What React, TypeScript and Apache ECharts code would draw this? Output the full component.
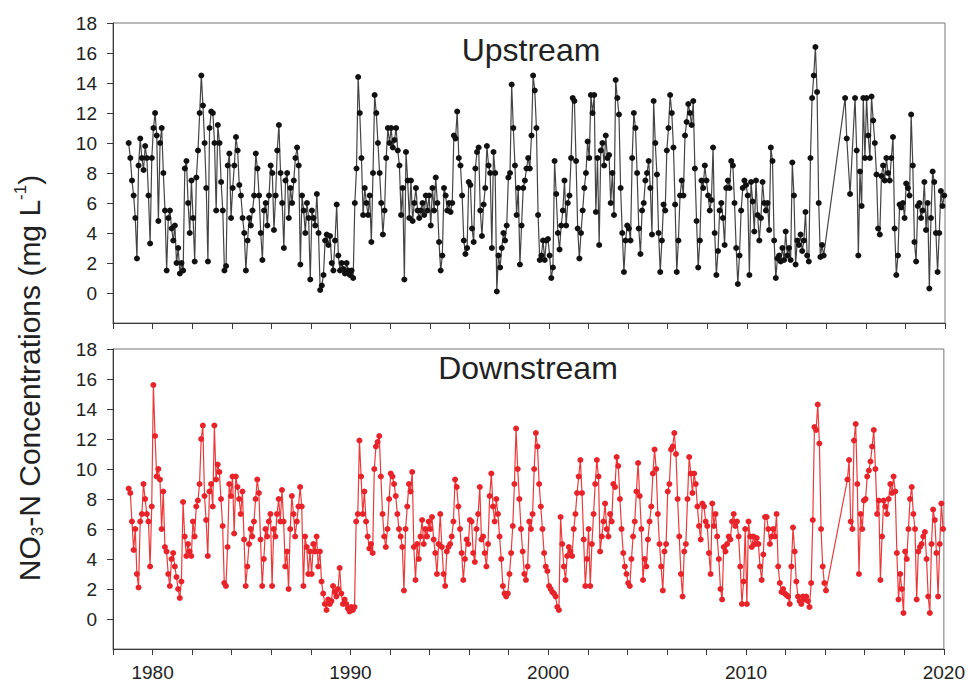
import React, { useEffect, useRef } from "react";
import * as echarts from "echarts";

// ---- data (monthly samples, first value = Oct 1978) ----
const FIRST_YEAR = 1978;
const FIRST_MONTH = 9; // 0-based, October
const X_MIN = 1978;
const X_MAX = 2020;
const Y_TICKS = [0, 2, 4, 6, 8, 10, 12, 14, 16, 18];
const X_LABEL_YEARS = [1980, 1990, 2000, 2010, 2020];
const PANEL_TITLES = ["Upstream", "Downstream"];

const upstreamValues: (number | null)[] = [
  10.0, 9.0, 7.5,
  6.5, 5.0, 2.3, 8.5, 10.3, 9.0, 8.2, 9.8, 9.0, 6.5, 3.3, 9.0, // 1979
  11.0, 12.0, 10.5, 4.8, 10.0, 11.0, 8.0, 5.5, 1.5, 5.0, 5.5, 4.3, // 1980
  3.5, 4.5, 2.0, 3.0, 1.3, 2.0, 1.5, 8.3, 8.8, 6.0, 4.0, 7.5, // 1981
  5.0, 2.1, 7.7, 9.5, 12.0, 14.5, 12.5, 10.0, 7.0, 2.1, 11.0, 12.1, // 1982
  12.0, 10.0, 5.5, 11.2, 10.0, 7.4, 5.5, 1.5, 1.8, 8.5, 9.3, 5.0, // 1983
  7.0, 8.5, 10.4, 9.5, 7.2, 6.5, 5.0, 4.0, 1.5, 3.5, 5.0, 4.5, // 1984
  5.5, 6.5, 9.3, 8.3, 6.5, 4.0, 2.2, 5.5, 6.0, 4.5, 6.5, 8.5, // 1985
  8.0, 4.2, 6.5, 9.5, 11.2, 8.0, 6.0, 3.0, 7.5, 8.0, 5.0, 7.0, // 1986
  6.0, 7.5, 9.0, 9.7, 8.5, 1.9, 6.5, 5.5, 4.0, 6.0, 5.0, 0.9, // 1987
  5.5, 5.0, 4.5, 6.6, 4.0, 0.2, 0.5, 1.2, 3.5, 3.9, 3.2, 3.8, // 1988
  2.0, 1.5, 3.5, 5.9, 2.5, 1.5, 2.0, 1.6, 1.3, 2.0, 1.5, 1.2, // 1989
  1.5, 1.0, 6.0, 8.3, 14.4, 12.0, 9.0, 5.2, 7.0, 6.0, 5.2, 6.5, // 1990
  3.4, 8.0, 13.2, 12.0, 10.0, 8.0, 6.0, 3.9, 5.5, 9.0, 11.0, 10.0, // 1991
  11.0, 9.7, 10.2, 11.0, 9.5, 8.5, 5.2, 7.0, 0.9, 9.4, 7.5, 5.0, // 1992
  7.5, 4.8, 6.0, 7.0, 5.5, 5.0, 5.5, 6.0, 5.2, 6.5, 5.5, 6.5, // 1993
  4.5, 7.0, 5.5, 7.7, 6.0, 3.4, 1.5, 2.5, 7.0, 6.5, 5.5, 6.0, // 1994
  5.4, 6.0, 10.5, 10.3, 12.1, 9.0, 8.5, 6.5, 3.5, 2.6, 3.0, 7.4, // 1995
  7.2, 4.3, 3.4, 8.3, 9.4, 9.7, 5.5, 3.8, 5.9, 7.0, 9.8, 8.5, // 1996
  8.0, 3.0, 9.4, 8.0, 0.1, 2.5, 1.7, 3.0, 4.0, 3.5, 4.5, 7.7, // 1997
  8.0, 13.9, 11.0, 8.5, 5.2, 7.0, 1.9, 4.5, 7.0, 7.5, 8.3, 9.0, // 1998
  8.3, 10.5, 14.5, 13.5, 11.0, 5.2, 2.2, 2.5, 3.5, 2.2, 3.5, 3.6, // 1999
  2.5, 1.0, 1.7, 8.8, 6.6, 4.0, 2.9, 4.5, 5.5, 7.5, 4.5, 6.0, // 2000
  6.5, 9.0, 13.0, 12.8, 8.8, 4.3, 2.3, 4.0, 5.5, 7.0, 8.0, 10.1, // 2001
  9.0, 13.2, 12.0, 13.2, 5.4, 9.0, 3.2, 9.5, 10.0, 8.5, 10.5, 9.0, // 2002
  9.2, 6.0, 8.0, 5.2, 14.2, 13.0, 11.9, 7.0, 4.0, 1.4, 3.5, 4.5, // 2003
  4.3, 3.5, 9.0, 12.0, 11.0, 8.0, 4.3, 2.6, 5.5, 6.0, 7.5, 8.0, // 2004
  8.8, 7.0, 3.9, 12.8, 10.0, 7.9, 4.0, 1.4, 3.5, 5.9, 5.5, 9.5, // 2005
  11.0, 13.2, 12.0, 9.7, 5.9, 1.4, 3.5, 6.5, 7.5, 6.5, 10.5, 11.4, // 2006
  12.6, 12.0, 11.2, 12.8, 8.3, 4.8, 1.7, 3.5, 7.5, 7.0, 8.5, 7.5, // 2007
  6.5, 5.5, 6.2, 9.7, 4.0, 1.2, 2.8, 5.5, 6.0, 5.0, 3.2, 7.0, // 2008
  7.5, 7.0, 8.8, 8.5, 6.0, 3.0, 0.6, 2.5, 5.5, 7.0, 7.5, 7.2, // 2009
  6.5, 1.2, 7.4, 6.1, 4.1, 7.5, 5.2, 3.5, 5.0, 7.4, 6.0, 5.5, // 2010
  6.0, 4.2, 9.7, 8.8, 3.5, 1.0, 2.3, 2.5, 2.1, 3.0, 2.2, 4.1, // 2011
  2.5, 3.0, 2.2, 8.7, 6.5, 1.9, 3.5, 3.2, 3.9, 2.8, 3.5, 5.4, // 2012
  2.5, 2.1, 9.0, 13.0, 14.5, 16.4, 13.4, 6.0, 2.4, 3.2, 2.5, null, // 2013
  null, null, null, null, null, null, null, null, null, null, null, 13.0, // 2014
  10.3, null, 6.6, null, null, 13.0, 9.5, 2.5, 8.1, 5.8, 13.0, 9.0, // 2015
  13.0, 10.5, 9.0, 13.1, 11.5, 10.0, 7.9, 4.3, 3.9, 7.8, 8.5, 7.5, // 2016
  9.0, 8.0, 7.5, 9.0, 10.4, 4.3, 1.2, 2.5, 5.9, 5.7, 6.0, 5.0, // 2017
  7.3, 7.0, 6.5, 11.9, 8.5, 3.4, 2.1, 5.8, 6.0, 5.0, 5.5, 7.4, // 2018
  4.2, 6.0, 0.3, 5.0, 8.1, 7.4, 4.0, 1.4, 4.0, 6.8, 5.8, 6.5, // 2019
];

const downstreamValues: (number | null)[] = [
  8.7, 8.4, 6.5,
  4.6, 6.0, 3.0, 2.1, 6.5, 7.0, 9.0, 8.0, 7.0, 6.5, 3.5, 7.5, // 1979
  15.6, 12.2, 9.5, 10.0, 9.3, 6.0, 8.5, 4.8, 4.5, 3.0, 2.2, 4.0, // 1980
  4.4, 3.5, 2.8, 2.0, 1.4, 2.5, 7.8, 5.5, 4.2, 5.0, 4.5, 4.2, // 1981
  6.5, 5.5, 7.5, 7.9, 9.0, 12.0, 12.9, 8.2, 6.6, 4.2, 8.5, 9.0, // 1982
  7.5, 12.9, 9.3, 10.3, 9.8, 8.0, 6.2, 2.4, 2.2, 4.8, 9.0, 8.2, // 1983
  9.5, 5.7, 9.5, 8.8, 8.0, 7.0, 8.5, 5.3, 2.2, 3.5, 5.0, 6.0, // 1984
  5.5, 6.5, 8.0, 9.3, 8.4, 5.3, 2.2, 4.0, 6.0, 5.5, 6.5, 7.0, // 1985
  2.2, 6.0, 5.5, 7.0, 8.0, 6.5, 8.6, 6.5, 3.5, 4.5, 2.0, 6.0, // 1986
  8.2, 7.0, 5.5, 6.5, 7.5, 8.8, 7.5, 2.2, 5.5, 4.8, 3.0, 4.5, // 1987
  3.0, 5.0, 4.5, 5.5, 3.5, 4.5, 2.5, 1.7, 1.0, 0.6, 1.3, 1.0, // 1988
  1.2, 2.2, 1.8, 1.5, 2.0, 3.4, 1.7, 1.0, 1.3, 1.0, 0.7, 0.5, // 1989
  0.8, 0.6, 0.8, 6.5, 7.0, 11.9, 9.5, 7.0, 8.5, 6.5, 5.5, 4.7, // 1990
  5.0, 4.4, 10.0, 11.5, 11.8, 12.2, 9.5, 7.0, 5.5, 4.8, 6.0, 8.0, // 1991
  9.7, 9.5, 9.0, 8.2, 7.0, 6.0, 5.5, 4.8, 1.9, 6.0, 7.5, 9.0, // 1992
  8.5, 9.8, 4.8, 2.6, 5.0, 4.0, 5.5, 6.6, 5.0, 6.0, 5.5, 6.5, // 1993
  6.0, 6.8, 5.3, 4.4, 3.0, 5.0, 7.0, 4.8, 3.0, 2.2, 4.5, 4.8, // 1994
  5.0, 5.5, 6.5, 9.3, 8.8, 7.5, 6.0, 4.4, 2.6, 4.0, 5.3, 5.0, // 1995
  6.6, 6.5, 4.4, 3.8, 6.0, 7.0, 8.8, 5.3, 5.5, 4.4, 3.5, 5.0, // 1996
  8.2, 9.7, 7.5, 6.5, 8.0, 7.0, 5.5, 4.0, 2.2, 1.7, 1.5, 1.7, // 1997
  3.0, 4.4, 6.2, 9.0, 12.7, 10.0, 8.0, 6.0, 4.5, 3.0, 2.6, 3.5, // 1998
  6.5, 6.0, 7.0, 10.0, 12.4, 11.5, 9.0, 7.5, 6.0, 4.4, 3.5, 3.2, // 1999
  2.2, 2.0, 1.8, 1.7, 1.5, 0.8, 0.6, 6.8, 5.0, 3.5, 2.6, 4.2, // 2000
  4.8, 4.5, 4.2, 6.0, 7.0, 8.4, 9.5, 10.6, 8.4, 5.3, 2.2, 4.0, // 2001
  6.0, 2.2, 5.0, 7.0, 9.0, 10.6, 9.5, 4.5, 5.5, 6.5, 7.7, 6.0, // 2002
  5.5, 7.0, 6.5, 9.0, 8.8, 10.8, 10.2, 8.0, 6.0, 4.4, 3.5, 3.0, // 2003
  2.4, 2.2, 4.0, 5.5, 6.5, 8.5, 10.4, 8.2, 6.0, 2.6, 4.0, 3.5, // 2004
  5.3, 6.5, 7.5, 9.7, 11.3, 10.0, 7.0, 5.0, 3.5, 1.9, 4.5, 5.0, // 2005
  8.5, 9.0, 11.3, 11.5, 12.4, 11.0, 8.0, 5.5, 3.0, 1.5, 4.5, 5.0, // 2006
  8.0, 10.8, 9.7, 8.4, 9.7, 9.0, 7.5, 6.2, 5.3, 7.7, 7.5, 6.5, // 2007
  6.2, 4.4, 3.0, 7.7, 6.2, 7.0, 5.5, 4.0, 2.0, 1.3, 4.8, 4.5, // 2008
  5.0, 5.5, 5.3, 6.5, 7.0, 6.2, 6.5, 5.5, 3.5, 1.0, 2.5, 6.0, // 2009
  1.0, 6.5, 5.5, 4.8, 5.5, 5.0, 5.4, 5.0, 3.5, 2.6, 4.3, 6.8, // 2010
  6.8, 6.0, 5.0, 5.5, 6.0, 5.5, 7.0, 3.5, 2.4, 1.8, 2.0, 1.7, // 2011
  1.6, 1.5, 1.0, 3.5, 6.1, 4.5, 2.5, 1.5, 1.2, 1.0, 1.5, 1.3, // 2012
  1.5, 1.2, 0.8, 2.4, 6.6, 12.8, 12.6, 14.3, 11.7, 6.0, 3.5, 2.4, // 2013
  1.9, null, null, null, null, null, null, null, null, null, null, null, // 2014
  null, 9.3, 10.6, 6.5, 6.0, 11.9, 13.0, 9.0, 3.0, 7.0, 6.0, 7.9, // 2015
  8.0, 9.5, 9.9, 10.5, 11.5, 12.6, 10.0, 7.0, 7.9, 2.6, 5.5, 7.9, // 2016
  7.5, 7.0, 8.0, 9.0, 8.4, 9.5, 8.5, 4.4, 1.3, 3.0, 2.0, 0.4, // 2017
  4.5, 4.0, 6.0, 8.0, 8.8, 7.0, 6.0, 1.3, 4.5, 4.8, 5.0, 5.5, // 2018
  5.8, 4.0, 1.5, 0.4, 5.0, 7.3, 6.6, 4.4, 1.5, 5.0, 7.7, 6.0, // 2019
];

const FONT = '"Liberation Sans", Arial, Helvetica, sans-serif';

function toPoints(values: (number | null)[]): number[][] {
  const pts: number[][] = [];
  values.forEach((v, i) => {
    if (v !== null) pts.push([FIRST_YEAR + (FIRST_MONTH + i + 0.5) / 12, v]);
  });
  return pts;
}

export default function App() {
  const ref = useRef<HTMLDivElement>(null);

  useEffect(() => {
    document.body.style.margin = "0";
    if (!ref.current) return;
    const chart = echarts.init(ref.current, null, { renderer: "svg" });

    const grids = [
      { left: 113, top: 23, width: 832, height: 300 },
      { left: 113, top: 349, width: 832, height: 300 },
    ];

    const axisColor = "#3a3a3a";
    const xAxes = grids.map((_, i) => ({
      gridIndex: i,
      type: "value",
      min: X_MIN,
      max: X_MAX,
      interval: 2,
      axisLine: { show: true, onZero: false, lineStyle: { color: axisColor, width: 1 } },
      axisTick: { show: true, length: 6, lineStyle: { color: axisColor } },
      axisLabel: {
        show: i === 1,
        customValues: X_LABEL_YEARS,
        fontSize: 19,
        color: "#222",
        fontFamily: FONT,
        margin: 14,
        formatter: (v: number) => String(v),
      },
      splitLine: { show: false },
    }));

    const yAxes = grids.map((_, i) => ({
      gridIndex: i,
      type: "value",
      min: -2,
      max: 18,
      interval: 2,
      axisLine: { show: true, onZero: false, lineStyle: { color: axisColor, width: 1 } },
      axisTick: { show: true, length: 6, customValues: Y_TICKS, lineStyle: { color: axisColor } },
      axisLabel: {
        customValues: Y_TICKS,
        fontSize: 19,
        color: "#222",
        fontFamily: FONT,
        margin: 16,
      },
      splitLine: { show: false },
    }));

    const option = {
      animation: false,
      backgroundColor: "#ffffff",
      grid: grids.map((g) => ({
        ...g,
        show: true,
        borderColor: "#777",
        borderWidth: 1,
        backgroundColor: "transparent",
        containLabel: false,
      })),
      xAxis: xAxes,
      yAxis: yAxes,
      series: [
        {
          name: PANEL_TITLES[0],
          type: "line",
          xAxisIndex: 0,
          yAxisIndex: 0,
          data: toPoints(upstreamValues),
          symbol: "circle",
          symbolSize: 6,
          showSymbol: true,
          itemStyle: { color: "#111" },
          lineStyle: { color: "#444", width: 1.2 },
          emphasis: { disabled: true },
        },
        {
          name: PANEL_TITLES[1],
          type: "line",
          xAxisIndex: 1,
          yAxisIndex: 1,
          data: toPoints(downstreamValues),
          symbol: "circle",
          symbolSize: 6,
          showSymbol: true,
          itemStyle: { color: "#e8232a" },
          lineStyle: { color: "#ec3a3a", width: 1.2 },
          emphasis: { disabled: true },
        },
      ],
      graphic: [
        {
          type: "text",
          x: 531,
          y: 50,
          style: {
            text: PANEL_TITLES[0],
            fontSize: 32,
            fontFamily: FONT,
            fill: "#222",
            align: "center",
            verticalAlign: "middle",
          },
        },
        {
          type: "text",
          x: 528,
          y: 368,
          style: {
            text: PANEL_TITLES[1],
            fontSize: 32,
            fontFamily: FONT,
            fill: "#222",
            align: "center",
            verticalAlign: "middle",
          },
        },
        {
          type: "text",
          x: 29,
          y: 378,
          rotation: Math.PI / 2,
          style: {
            text: "{a|NO}{b|3}{a|-N Concentrations (mg L}{c|-1}{a|)}",
            align: "center",
            verticalAlign: "middle",
            rich: {
              a: { fontSize: 30, fontFamily: FONT, fill: "#222", lineHeight: 34 },
              b: { fontSize: 17, fontFamily: FONT, fill: "#222", verticalAlign: "bottom", lineHeight: 34 },
              c: { fontSize: 17, fontFamily: FONT, fill: "#222", verticalAlign: "top", lineHeight: 34 },
            },
          },
        },
      ],
    };

    chart.setOption(option as any);
    return () => chart.dispose();
  }, []);

  return <div ref={ref} style={{ width: 968, height: 693, overflow: "hidden" }} />;
}
